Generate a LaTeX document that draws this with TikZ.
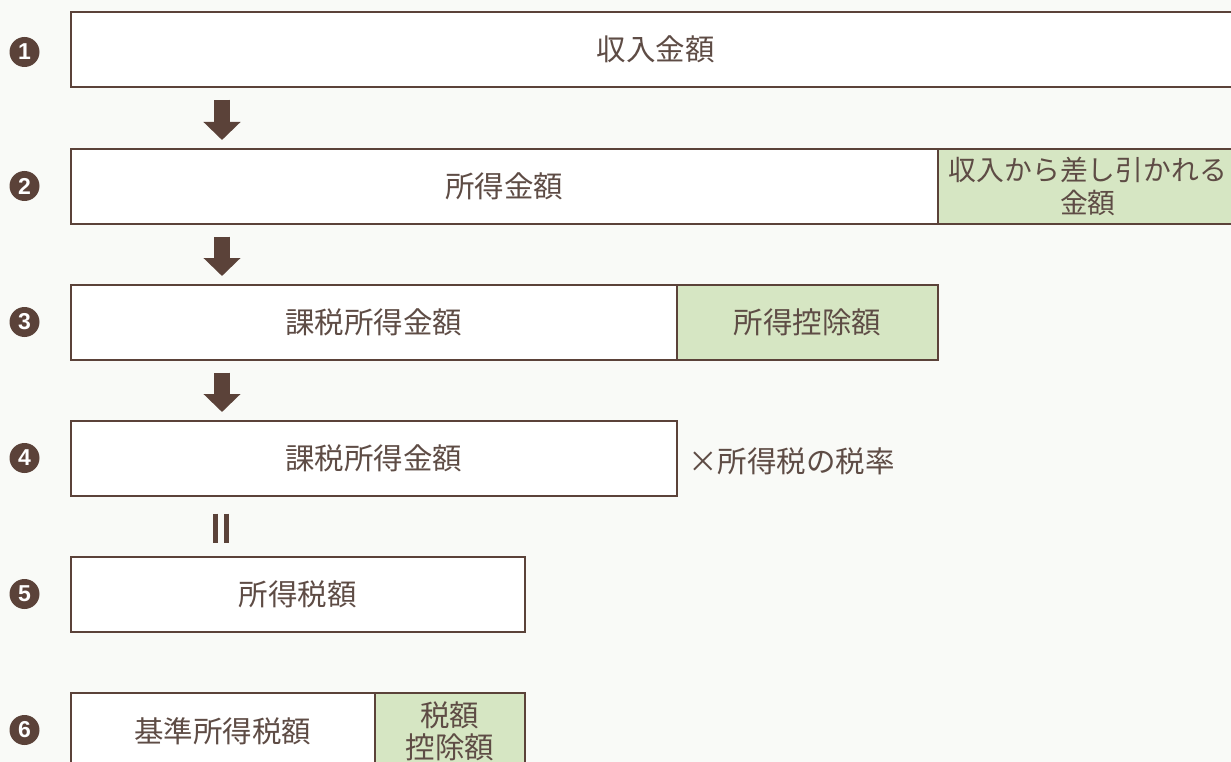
\documentclass[tikz,border=0pt]{standalone}
\usepackage{fontspec}
\newfontfamily\jp{Noto Sans CJK JP}
\setmainfont{Liberation Sans}
\usetikzlibrary{arrows.meta,calc}
\definecolor{brn}{HTML}{5B4239}
\definecolor{txt}{HTML}{5E4C45}
\definecolor{grn}{HTML}{D6E6C3}
\definecolor{bg}{HTML}{F9FAF7}
\tikzset{
  box/.style={draw=brn, line width=1.6pt, fill=white, anchor=north west, inner sep=0pt,
    minimum height=75pt, text=txt, font=\jp\fontsize{29.5}{37}\selectfont, align=center},
  gbox/.style={box, fill=grn},
  numc/.style={circle, fill=brn, minimum size=30pt, inner sep=0pt, text=white,
    font=\bfseries\fontsize{23}{23}\selectfont},
  bigarrow/.style={draw=brn, line width=16pt, -{Triangle[width=36pt,length=18pt]}},
  bar/.style={draw=brn, line width=5pt},
  lbl/.style={anchor=west, text=txt, font=\jp\fontsize{29.5}{37}\selectfont, inner sep=0pt}
}
\begin{document}
\begin{tikzpicture}[x=1pt,y=-1pt]
\useasboundingbox (0,0) rectangle (1231,762);
\fill[bg] (0,0) rectangle (1231,762);
% boxes
\node[box, minimum width=1170pt] (b1) at (70,11) {収入金額};
\node[box, minimum width=867pt] (b2) at (70,148) {所得金額};
\node[gbox, minimum width=300pt, font=\jp\fontsize{27.8}{35}\selectfont] (g2) at (937,148) {収入から差し引かれる\\[-2pt]金額};
\node[box, minimum width=606pt] (b3) at (70,284) {課税所得金額};
\node[gbox, minimum width=261pt] (g3) at (676,284) {所得控除額};
\node[box, minimum width=606pt] (b4) at (70,420) {課税所得金額};
\node[lbl] (l4) at (688,461) {×所得税の税率};
\node[box, minimum width=454pt] (b5) at (70,556) {所得税額};
\node[box, minimum width=304pt, minimum height=76pt] (b6) at (70,692) {基準所得税額};
\node[gbox, minimum width=150pt, minimum height=76pt] (g6) at (374,692) {税額\\[-5pt]控除額};
% numbers
\node[numc] (n1) at (24.5,52) {1};
\node[numc] (n2) at (24.5,186) {2};
\node[numc] (n3) at (24.5,322) {3};
\node[numc] (n4) at (24.5,458) {4};
\node[numc] (n5) at (24.5,594) {5};
\node[numc] (n6) at (24.5,730) {6};
% arrows
\draw[bigarrow] ($(b1.south west)+(152,12)$) -- ($(b2.north west)+(152,-8)$);
\draw[bigarrow] ($(b2.south west)+(152,12)$) -- ($(b3.north west)+(152,-8)$);
\draw[bigarrow] ($(b3.south west)+(152,12)$) -- ($(b4.north west)+(152,-8)$);
% equals
\draw[bar] ($(b4.south west)+(145.5,17)$) -- ($(b5.north west)+(145.5,-13)$);
\draw[bar] ($(b4.south west)+(156.5,17)$) -- ($(b5.north west)+(156.5,-13)$);
\end{tikzpicture}
\end{document}
